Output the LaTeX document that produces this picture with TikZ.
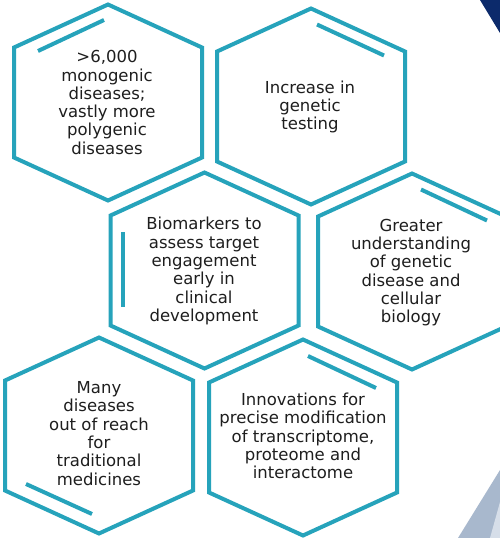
\documentclass[tikz,border=0pt]{standalone}
\usepackage{fontspec}
\usetikzlibrary{calc}
\setmainfont{DejaVu Sans}
\definecolor{hexteal}{RGB}{38,163,187}
\definecolor{bodytext}{RGB}{30,30,30}
\definecolor{cornernavy}{RGB}{12,42,107}
\definecolor{slateblue}{RGB}{168,184,205}
\definecolor{paleslate}{RGB}{214,222,233}
\newcommand{\cellfont}{\fontsize{16.5}{18.3}\selectfont}
\begin{document}
\begin{tikzpicture}[x=1pt,y=-1pt]
\tikzset{
  hexline/.style={draw=hexteal, line width=4pt, line join=miter},
  accent/.style={draw=hexteal, line width=4pt},
  celltext/.style={text=bodytext, font=\cellfont, align=center, inner sep=0pt},
  cell/.pic={\draw[hexline] (0,-98) -- (94,-55) -- (94,55) -- (0,98) -- (-94,55) -- (-94,-55) -- cycle;}
}
\useasboundingbox[fill=white] (0,0) rectangle (500,538);

% corner decorations
\fill[cornernavy] (480,0) -- (500,0) -- (500,33) -- cycle;
\fill[slateblue] (458,538) -- (500,470) -- (500,538) -- cycle;
\fill[paleslate] (490,538) -- (500,502) -- (500,538) -- cycle;

% hexagonal cells
\pic at (108,102.5) {cell};
\pic at (311,106.5) {cell};
\pic at (204.5,270.5) {cell};
\pic at (412,271.5) {cell};
\pic at (99,435.5) {cell};
\pic at (303,437.5) {cell};

% inner accent strokes
\draw[accent] ($(108,102.5)+(-70,-51.5)$) -- ($(108,102.5)+(-4,-82.5)$);
\draw[accent] ($(311,106.5)+(6,-82)$) -- ($(311,106.5)+(73,-51)$);
\draw[accent] ($(204.5,270.5)+(-81.5,-38.5)$) -- ($(204.5,270.5)+(-81.5,36.5)$);
\draw[accent] ($(412,271.5)+(9,-82)$) -- ($(412,271.5)+(75,-51)$);
\draw[accent] ($(99,435.5)+(-73,48.5)$) -- ($(99,435.5)+(-7,78.5)$);
\draw[accent] ($(303,437.5)+(5,-81.5)$) -- ($(303,437.5)+(73,-49.5)$);

% cell texts
\node[celltext] (monogenic) at (107,102.5) {>6,000\\monogenic\\diseases;\\vastly more\\polygenic\\diseases};
\node[celltext] (testing) at (310,107) {Increase in\\genetic\\testing};
\node[celltext] (biomarkers) at (204,271) {Biomarkers to\\assess target\\engagement\\early in\\clinical\\development};
\node[celltext] (understanding) at (411,272.5) {Greater\\understanding\\of genetic\\disease and\\cellular\\biology};
\node[celltext] (reach) at (99,433.5) {Many\\diseases\\out of reach\\for\\traditional\\medicines};
\node[celltext] (innovations) at (303,436) {Innovations for\\precise modification\\of transcriptome,\\proteome and\\interactome};
\end{tikzpicture}
\end{document}
